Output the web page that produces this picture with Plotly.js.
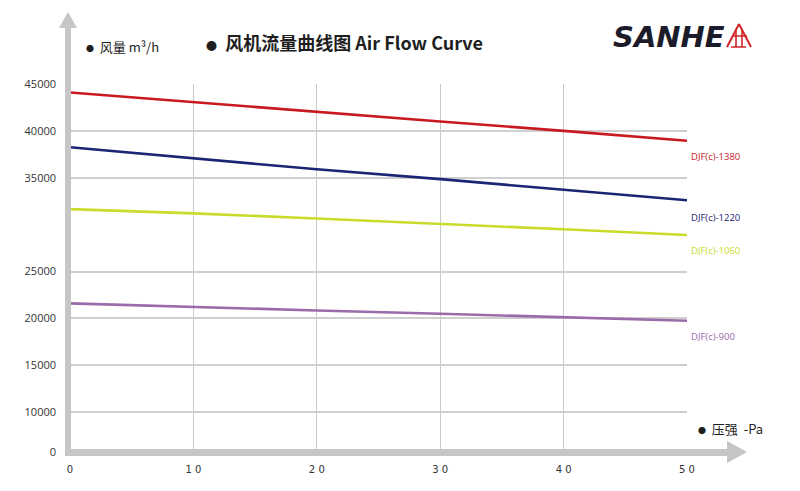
<!DOCTYPE html>
<html>
<head>
<meta charset="utf-8">
<script src="https://cdn.plot.ly/plotly-3.0.1.min.js"></script>
<style>html,body{margin:0;padding:0;background:#fff;}#chart{width:800px;height:491px;}</style>
</head>
<body>
<div id="chart"></div>
<script>
// ---- data ----
const pressure = [0, 10, 20, 30, 40, 50];               // Pa
const flow1380 = [44100, 43050, 42000, 41000, 40000, 38950];
const flow1220 = [38250, 37100, 35900, 34850, 33700, 32600];
const flow1060 = [31650, 31200, 30650, 30100, 29500, 28900];
const flow900  = [21600, 21200, 20850, 20500, 20100, 19750];
const seriesNames = ['DJF(c)-1380', 'DJF(c)-1220', 'DJF(c)-1060', 'DJF(c)-900'];
const xTickVals = [0, 10, 20, 30, 40, 50];
const xTickText = ['0', '1 0', '2 0', '3 0', '4 0', '5 0'];
// the reference's baseline "0" sits just below the 10000 line (compressed axis)
const yTickVals = [5750, 10000, 15000, 20000, 25000, 35000, 40000, 45000];
const yTickText = ['0', '10000', '15000', '20000', '25000', '35000', '40000', '45000'];

// ---- styling ----
const colors = ['#c8191f', '#1c2574', '#c9dc2c', '#9b6aa9'];
const L = 70, R = 687, T = 84, B = 452;
const px = x => (x - L) / (R - L);
const py = y => (B - y) / (B - T);
const pathOf = pts => 'M' + pts.map(p => px(p[0]).toFixed(5) + ',' + py(p[1]).toFixed(5)).join(' L') + ' Z';
const cjk = '"Noto Sans CJK SC", "Noto Sans", sans-serif';
const dot = s => '<span style="font-size:' + s + 'px">●</span>';

const seriesData = [flow1380, flow1220, flow1060, flow900];
const traces = seriesData.map((ys, i) => ({
  type: 'scatter', mode: 'lines', x: pressure, y: ys, name: seriesNames[i],
  line: {color: colors[i], width: 2.6}, hoverinfo: 'x+y+name'
}));

const axisGrey = '#c6c6c6';
const seg = (a, b) => ' M' + px(a[0]).toFixed(5) + ',' + py(a[1]).toFixed(5) + ' L' + px(b[0]).toFixed(5) + ',' + py(b[1]).toFixed(5);
const shapes = [
  {type: 'path', xref: 'paper', yref: 'paper', fillcolor: axisGrey, line: {width: 0}, layer: 'above',
   path: pathOf([[65,456],[71,456],[71,28],[77,28],[68,12],[59,28],[65,28]])},
  {type: 'path', xref: 'paper', yref: 'paper', fillcolor: axisGrey, line: {width: 0}, layer: 'above',
   path: pathOf([[65,449],[727,449],[727,441],[747,452],[727,463],[727,456],[65,456]])},
  // logo icon
  {type: 'path', xref: 'paper', yref: 'paper', fillcolor: 'rgba(0,0,0,0)', line: {color: '#d0262b', width: 2},
   path: seg([727,47],[739,24]) + seg([739,24],[751,47])},
  {type: 'path', xref: 'paper', yref: 'paper', fillcolor: 'rgba(0,0,0,0)', line: {color: '#d0262b', width: 1.6},
   path: seg([732,36],[747,36]) + seg([736,30],[736,47]) + seg([742,30],[742,47]) + seg([731,47],[746,47])}
];

const labelY = [156, 217, 250, 336];
const annotations = [
  {xref: 'paper', yref: 'paper', x: px(204), y: py(42), xanchor: 'left', yanchor: 'middle', showarrow: false,
   text: '<b>' + dot(11) + '  风机流量曲线图 Air Flow Curve</b>', font: {family: cjk, size: 18, color: '#1e1e1e'}},
  {xref: 'paper', yref: 'paper', x: px(84), y: py(46), xanchor: 'left', yanchor: 'middle', showarrow: false,
   text: dot(8) + '  风量 m³/h', font: {family: cjk, size: 13, color: '#1e1e1e'}},
  {xref: 'paper', yref: 'paper', x: px(696), y: py(428), xanchor: 'left', yanchor: 'middle', showarrow: false,
   text: dot(8) + '  压强  -Pa', font: {family: cjk, size: 13, color: '#1e1e1e'}},
  {xref: 'paper', yref: 'paper', x: px(727), y: py(37), xanchor: 'right', yanchor: 'middle', showarrow: false,
   text: '<b><i>SANHE</i></b>', font: {family: '"DejaVu Sans", sans-serif', size: 29, color: '#1b1b2a'}}
].concat(seriesNames.map((n, i) => ({
  xref: 'paper', yref: 'paper', x: px(689), y: py(labelY[i]), xanchor: 'left', yanchor: 'middle', showarrow: false,
  text: n, font: {family: '"Open Sans", sans-serif', size: 9.5, color: colors[i]}
})));

const layout = {
  width: 800, height: 491,
  margin: {l: L, r: 800 - R, t: T, b: 491 - B, pad: 0},
  paper_bgcolor: '#ffffff', plot_bgcolor: '#ffffff',
  showlegend: false,
  xaxis: {range: [0, 50], tickvals: xTickVals, ticktext: xTickText, showgrid: true, gridcolor: '#c9c9c9', gridwidth: 1.2,
          zeroline: false, showline: false, ticks: '', ticklabelstandoff: 10,
          tickfont: {family: '"DejaVu Sans", sans-serif', size: 10, color: '#333'}},
  yaxis: {range: [5750, 45000], tickvals: yTickVals, ticktext: yTickText, showgrid: true, gridcolor: '#cfcfcf', gridwidth: 2,
          zeroline: false, showline: false, ticks: '', ticklabelstandoff: 13,
          tickfont: {family: '"Open Sans", sans-serif', size: 11, color: '#333'}},
  shapes: shapes,
  annotations: annotations
};

Plotly.newPlot('chart', traces, layout, {displayModeBar: false, staticPlot: true});
</script>
</body>
</html>
